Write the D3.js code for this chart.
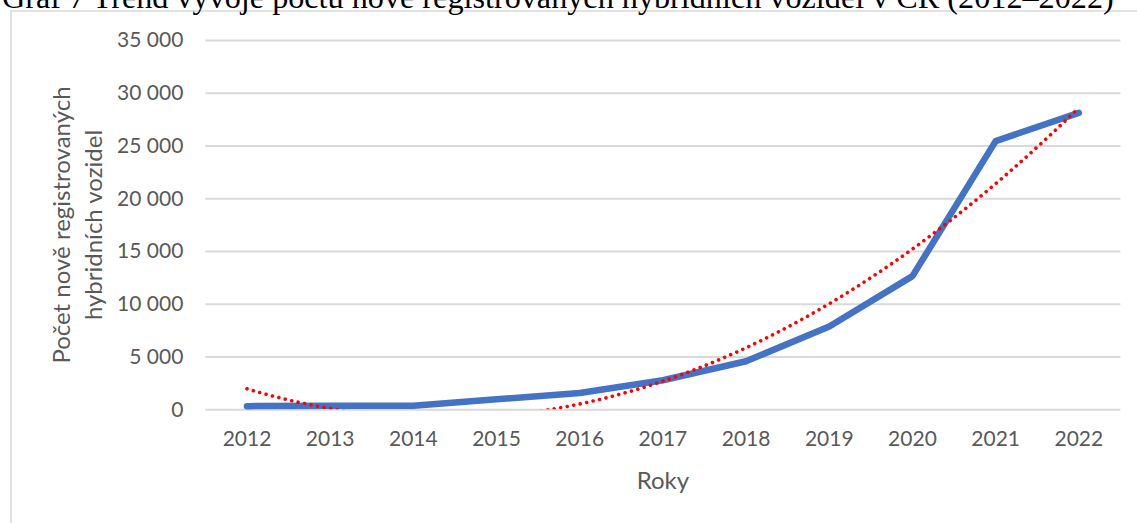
<!DOCTYPE html>
<html><head><meta charset="utf-8">
<script src="https://cdn.jsdelivr.net/npm/d3@7"></script>
<style>html,body{margin:0;padding:0;background:#fff;overflow:hidden}</style>
</head><body>
<svg id="c" width="1137" height="523"></svg>
<script>
const titleText = "Graf 7 Trend vývoje počtu nově registrovaných hybridních vozidel v ČR (2012–2022)";
const years = ["2012","2013","2014","2015","2016","2017","2018","2019","2020","2021","2022"];
const registrations = [300, 330, 330, 950, 1550, 2750, 4550, 7850, 12620, 25420, 28100];
const yTicks = [0, 5000, 10000, 15000, 20000, 25000, 30000, 35000];
const yTitleLines = ["Počet nově registrovaných", "hybridních vozidel"];
const xTitle = "Roky";

(function () {
const svg = d3.select("#c");
const pL = 205.4, pR = 1120.4, pT = 40, pB = 409.3;
const x = d3.scaleBand().domain(years).range([pL, pR]);
const y = d3.scaleLinear().domain([0, 35000]).range([pB, pT]);
const fmt = v => d3.format(",")(v).replace(/,/g, "\u00a0");
const gray = "#595959", font = "Lato, 'Open Sans', sans-serif";

// chart frame
svg.append("rect").attr("x", 11).attr("y", 11).attr("width", 1300).attr("height", 700)
  .attr("fill", "none").attr("stroke", "#d9d9d9").attr("stroke-width", 1.5);

// title (cropped at top, as in the reference)
const t = svg.append("text").attr("x", 2).attr("y", 8).text(titleText)
  .attr("font-family", "'Liberation Serif', 'Times New Roman', serif").attr("font-size", 28).attr("fill", "#000");
const len = t.node().getComputedTextLength();
t.attr("font-size", 28 * 1112 / len);

// gridlines + y labels
const yAxis = d3.axisLeft(y).tickValues(yTicks).tickSize(-(pR - pL)).tickFormat(fmt).tickPadding(22);
const gy = svg.append("g").attr("transform", `translate(${pL},0)`).call(yAxis);
gy.select(".domain").remove();
gy.selectAll(".tick line").attr("stroke", "#d9d9d9").attr("stroke-width", 2);
gy.selectAll(".tick text").attr("fill", gray).attr("font-family", font).attr("font-size", 21);

// x labels
const xAxis = d3.axisBottom(x).tickSize(0).tickPadding(22);
const gx = svg.append("g").attr("transform", `translate(0,${pB})`).call(xAxis);
gx.select(".domain").remove();
gx.selectAll(".tick text").attr("fill", gray).attr("font-family", font).attr("font-size", 21);

// axis titles
svg.append("text").attr("x", (pL + pR) / 2).attr("y", 489).attr("text-anchor", "middle")
  .attr("fill", gray).attr("font-family", font).attr("font-size", 24).text(xTitle);
yTitleLines.forEach((s, i) => {
  svg.append("text").attr("transform", `translate(${70 + i * 32},225) rotate(-90)`)
    .attr("text-anchor", "middle").attr("fill", gray).attr("font-family", font).attr("font-size", 24).text(s);
});

// clip
svg.append("clipPath").attr("id", "clip").append("rect")
  .attr("x", pL).attr("y", pT - 20).attr("width", pR - pL).attr("height", pB - pT + 20);

const cx = d => x(d) + x.bandwidth() / 2;

// polynomial (order 2) trendline: least squares on the data
const n = registrations.length;
const xs = registrations.map((_, i) => i);
const mx = d3.mean(xs), my = d3.mean(registrations);
const p1 = xs.map(v => v - mx);
const s2 = d3.mean(p1.map(v => v * v));
const p2 = p1.map(v => v * v - s2);
const b1 = d3.sum(registrations.map((v, i) => v * p1[i])) / d3.sum(p1.map(v => v * v));
const b2 = d3.sum(registrations.map((v, i) => v * p2[i])) / d3.sum(p2.map(v => v * v));
const trend = xi => my + b1 * (xi - mx) + b2 * ((xi - mx) ** 2 - s2);
const xi2px = d3.scaleLinear().domain([0, n - 1]).range([cx(years[0]), cx(years[n - 1])]);
const samples = d3.range(0, (n - 1) * 50 + 1).map(k => k / 50);

// data line
svg.append("path").datum(registrations)
  .attr("d", d3.line().x((d, i) => cx(years[i])).y(d => y(d)))
  .attr("fill", "none").attr("stroke", "#4472C4").attr("stroke-width", 6.5)
  .attr("stroke-linecap", "round").attr("stroke-linejoin", "round");

svg.append("path").datum(samples).attr("clip-path", "url(#clip)")
  .attr("d", d3.line().x(d => xi2px(d)).y(d => y(trend(d))))
  .attr("fill", "none").attr("stroke", "#ff0000").attr("stroke-width", 3.6)
  .attr("stroke-dasharray", "0.01 6.6").attr("stroke-linecap", "round");
})();
</script>
</body></html>
